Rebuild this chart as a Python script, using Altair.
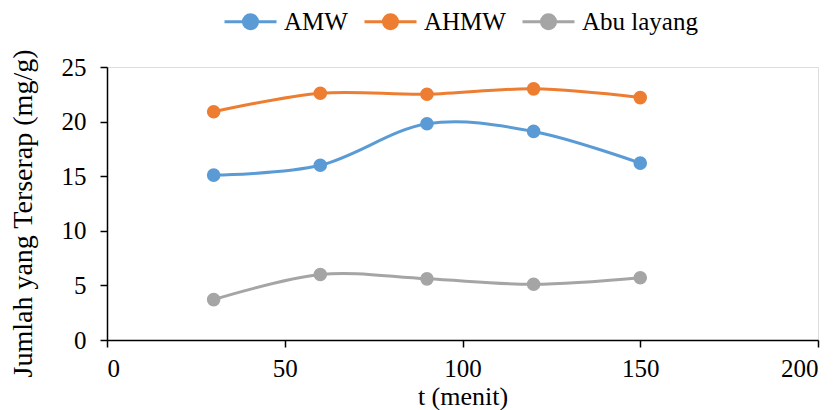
import altair as alt
import pandas as pd

t = [30, 60, 90, 120, 150]
amw = [15.1, 16.0, 19.8, 19.1, 16.2]
ahmw = [20.9, 22.6, 22.5, 23.0, 22.2]
abu = [3.7, 6.0, 5.6, 5.1, 5.7]
series = ["AMW", "AHMW", "Abu layang"]
colors = ["#5B9BD5", "#ED7D31", "#A5A5A5"]

rows = []
for name, vals in zip(series, [amw, ahmw, abu]):
    for x, y in zip(t, vals):
        rows.append({"t": x, "v": y, "s": name})
df = pd.DataFrame(rows)

font = "Liberation Serif"
sym = "M-1,0 L1,0 M-0.27,0 A0.27,0.27 0 1,0 0.27,0 A0.27,0.27 0 1,0 -0.27,0 Z"

color = alt.Color(
    "s:N",
    scale=alt.Scale(domain=series, range=colors),
    legend=alt.Legend(
        title=None, orient="none", direction="horizontal",
        legendX=116, legendY=-73, padding=0,
        symbolType=sym, symbolSize=2704, symbolStrokeWidth=3,
        symbolOpacity=1,
        labelFont=font, labelFontSize=25, labelColor="black",
        labelOffset=6, columnPadding=10,
    ),
)

x = alt.X("t:Q", title="t (menit)",
          scale=alt.Scale(domain=[0, 200], nice=False),
          axis=alt.Axis(values=[0, 50, 100, 150, 200], grid=False,
                        domainColor="black", domainWidth=1.5,
                        tickColor="black", tickSize=7, tickWidth=1.5,
                        labelFont=font, labelFontSize=25, labelColor="black",
                        labelPadding=9, titleFont=font, titleFontSize=26,
                        titleFontWeight="normal", titleColor="black",
                        titlePadding=2))
y = alt.Y("v:Q", title="Jumlah yang Terserap (mg/g)",
          scale=alt.Scale(domain=[0, 25], nice=False),
          axis=alt.Axis(values=[0, 5, 10, 15, 20, 25], grid=False,
                        domainColor="black", domainWidth=1.5,
                        tickColor="black", tickSize=7, tickWidth=1.5,
                        labelFont=font, labelFontSize=25, labelColor="black",
                        labelPadding=14, titleFont=font, titleFontSize=28,
                        titleFontWeight="normal", titleColor="black",
                        titlePadding=24, titleY=146))

base = alt.Chart(df).encode(x=x, y=y, color=color)
lines = base.mark_line(interpolate="cardinal", strokeWidth=3)
points = base.mark_point(filled=True, size=185, opacity=1)

chart = alt.layer(lines, points).properties(
    width=711, height=273,
    autosize=alt.AutoSizeParams(type="none"),
    padding={"left": 107, "top": 67, "right": 22, "bottom": 70},
).configure_view(stroke=None).configure(
    background="white", font=font
).configure_axis(labelFont=font, titleFont=font).configure_legend(labelFont=font)

chart.save("out.html", embed_options={"renderer": "svg", "actions": False})
